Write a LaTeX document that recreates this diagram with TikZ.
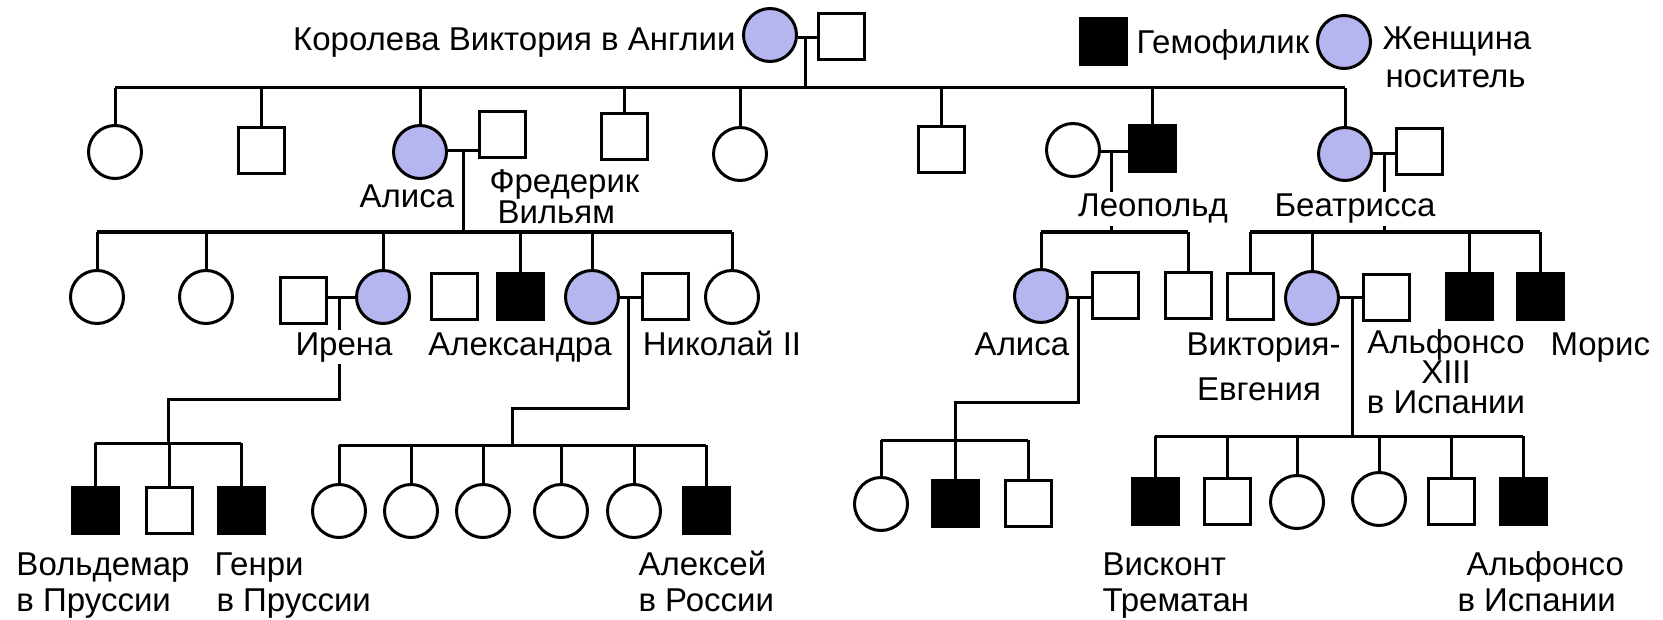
\documentclass[tikz,border=0pt]{standalone}
\usepackage{fontspec}
\setmainfont{Liberation Sans}
\definecolor{carrier}{RGB}{181,181,240}
\tikzset{
  sq/.style={draw, rectangle, minimum size=23pt, inner sep=0pt, line width=1.5pt, fill=white},
  aff/.style={sq, fill=black},
  fe/.style={draw, circle, minimum size=26.5pt, inner sep=0pt, line width=1.5pt, fill=white},
  car/.style={fe, fill=carrier},
  lbl/.style={font=\fontsize{16.5}{15}\selectfont, inner sep=0.5pt},
  cover/.style={lbl, fill=white, inner sep=1pt}
}
\begin{document}
\begin{tikzpicture}[x=0.5pt, y=-0.5pt, line width=1.5pt]
\useasboundingbox (0,0) rectangle (1663,620);
% ---------- generation 0
\node[car] (V) at (770,35) {};
\node[sq] (A) at (841,37) {};
\coordinate (mV) at (805,38);
\coordinate (s0) at (805,88);
% ---------- generation 1
\node[fe] (g1a) at (115,152) {};
\node[sq] (g1b) at (261,151) {};
\node[car] (alice) at (420,152) {};
\node[sq] (fred) at (502,135) {};
\node[sq] (g1d) at (624,137) {};
\node[fe] (g1e) at (740,154) {};
\node[sq] (g1f) at (941,150) {};
\node[fe] (leow) at (1073,150) {};
\node[aff] (leo) at (1152,149) {};
\node[car] (bea) at (1345,154) {};
\node[sq] (beah) at (1419,152) {};
\draw (V.east |- mV) -- (A.west |- mV);
\draw (mV) -- (s0);
\draw (g1a.north |- s0) -- (bea.north |- s0);
\foreach \n in {g1a,g1b,alice,g1d,g1e,g1f,leo,bea} \draw (\n.north |- s0) -- (\n.north);
% ---------- Alice x Frederick
\coordinate (mA) at (463,151);
\coordinate (sA) at (463,232);
\draw (alice.east |- mA) -- (fred.west |- mA);
\draw (mA) -- (sA);
\node[fe] (k1) at (97,297) {};
\node[fe] (k2) at (206,297) {};
\node[sq] (irh) at (303,300) {};
\node[car] (irene) at (383,297) {};
\node[sq] (k4) at (454,296) {};
\node[aff] (k5) at (520,296) {};
\node[car] (alex) at (592,297) {};
\node[sq] (nick) at (665,296) {};
\node[fe] (k7) at (732,297) {};
\draw (k1.north |- sA) -- (k7.north |- sA);
\foreach \n in {k1,k2,irene,k5,alex,k7} \draw (\n.north |- sA) -- (\n.north);
% ---------- Irene
\coordinate (mI) at (339,297);
\coordinate (tI) at (339,399);
\coordinate (sI) at (168,443);
\draw (irh.east |- mI) -- (irene.west |- mI);
\draw (mI) -- (tI) -| (sI);
\node[aff] (w1) at (95,510) {};
\node[sq] (w2) at (169,510) {};
\node[aff] (w3) at (241,510) {};
\draw (w1.north |- sI) -- (w3.north |- sI);
\foreach \n in {w1,w2,w3} \draw (\n.north |- sI) -- (\n.north);
% ---------- Alexandra x Nicholas
\coordinate (mN) at (628,297);
\coordinate (tN) at (628,408);
\coordinate (sN) at (512,445);
\draw (alex.east |- mN) -- (nick.west |- mN);
\draw (mN) -- (tN) -| (sN);
\node[fe] (n1) at (339,511) {};
\node[fe] (n2) at (411,511) {};
\node[fe] (n3) at (483,511) {};
\node[fe] (n4) at (561,511) {};
\node[fe] (n5) at (634,511) {};
\node[aff] (n6) at (706,510) {};
\draw (n1.north |- sN) -- (n6.north |- sN);
\foreach \n in {n1,n2,n3,n4,n5,n6} \draw (\n.north |- sN) -- (\n.north);
% ---------- Leopold
\coordinate (mL) at (1111,152);
\coordinate (sL) at (1111,232);
\draw (leow.east |- mL) -- (leo.west |- mL);
\draw (mL) -- (sL);
\node[car] (aliceL) at (1041,296) {};
\node[sq] (alh) at (1115,295) {};
\node[sq] (lson) at (1188,295) {};
\draw (aliceL.north |- sL) -- (lson.north |- sL);
\foreach \n in {aliceL,lson} \draw (\n.north |- sL) -- (\n.north);
\coordinate (mAL) at (1078,297);
\coordinate (tAL) at (1078,402);
\coordinate (sAL) at (955,440);
\draw (aliceL.east |- mAL) -- (alh.west |- mAL);
\draw (mAL) -- (tAL) -| (sAL);
\node[fe] (r1) at (881,504) {};
\node[aff] (r2) at (955,503) {};
\node[sq] (r3) at (1028,503) {};
\draw (r1.north |- sAL) -- (r3.north |- sAL);
\foreach \n in {r1,r2,r3} \draw (\n.north |- sAL) -- (\n.north);
% ---------- Beatrice
\coordinate (mB) at (1384,154);
\coordinate (sB) at (1384,232);
\draw (bea.east |- mB) -- (beah.west |- mB);
\draw (mB) -- (sB);
\node[sq] (b1) at (1250,296) {};
\node[car] (ve) at (1312,298) {};
\node[sq] (alf) at (1386,297) {};
\node[aff] (b3) at (1469,296) {};
\node[aff] (b4) at (1540,296) {};
\draw (b1.north |- sB) -- (b4.north |- sB);
\foreach \n in {b1,ve,b3,b4} \draw (\n.north |- sB) -- (\n.north);
% ---------- Victoria-Eugenie x Alfonso XIII
\coordinate (mVE) at (1352,297);
\coordinate (sVE) at (1352,436);
\draw (ve.east |- mVE) -- (alf.west |- mVE);
\draw (mVE) -- (sVE);
\node[aff] (e1) at (1155,501) {};
\node[sq] (e2) at (1227,501) {};
\node[fe] (e3) at (1297,502) {};
\node[fe] (e4) at (1379,499) {};
\node[sq] (e5) at (1451,501) {};
\node[aff] (e6) at (1523,501) {};
\draw (e1.north |- sVE) -- (e6.north |- sVE);
\foreach \n in {e1,e2,e3,e4,e5,e6} \draw (\n.north |- sVE) -- (\n.north);
% ---------- legend
\node[aff] (legA) at (1103,42) {};
\node[car] (legC) at (1344,42) {};
\node[lbl, anchor=base west] (tlegA) at (1134,54) {Гемофилик};
\node[lbl, anchor=base west] (tlegC1) at (1380,50) {Женщина};
\node[lbl, anchor=base west] (tlegC2) at (1383,88) {носитель};
% ---------- labels
\node[lbl, anchor=base east] (tV) at (738,51) {Королева Виктория в Англии};
\node[lbl, anchor=base] (tAl) at (407,208) {Алиса};
\node[lbl, anchor=base west] (tFr1) at (487,193) {Фредерик};
\node[lbl, anchor=base west] (tFr2) at (495,224) {Вильям};
\node[cover, anchor=base] (tLeo) at (1153,217) {Леопольд};
\node[cover, anchor=base] (tBea) at (1355,217) {Беатрисса};
\node[cover, anchor=base] (tIr) at (344,355) {Ирена};
\node[lbl, anchor=base] (tAx) at (520,355) {Александра};
\node[lbl, anchor=base] (tNi) at (722,355) {Николай II};
\node[lbl, anchor=base] (tAlL) at (1022,355) {Алиса};
\node[lbl, anchor=base east] (tVE1) at (1343,355) {Виктория-};
\node[lbl, anchor=base] (tVE2) at (1259,400) {Евгения};
\node[lbl, anchor=north, align=center] (tAf) at (1446,327) {Альфонсо\\XIII\\в Испании};
\node[lbl, anchor=base west] (tMo) at (1548,355) {Морис};
\node[lbl, anchor=base west] (tW1) at (14,575) {Вольдемар};
\node[lbl, anchor=base west] (tW2) at (14,611) {в Пруссии};
\node[lbl, anchor=base west] (tH1) at (212,575) {Генри};
\node[lbl, anchor=base west] (tH2) at (214,611) {в Пруссии};
\node[lbl, anchor=base west] (tAlx1) at (636,575) {Алексей};
\node[lbl, anchor=base west] (tAlx2) at (636,611) {в России};
\node[lbl, anchor=base west] (tVi1) at (1100,575) {Висконт};
\node[lbl, anchor=base west] (tVi2) at (1100,611) {Трематан};
\node[lbl, anchor=base west] (tAs1) at (1464,575) {Альфонсо};
\node[lbl, anchor=base west] (tAs2) at (1455,611) {в Испании};
\end{tikzpicture}
\end{document}
